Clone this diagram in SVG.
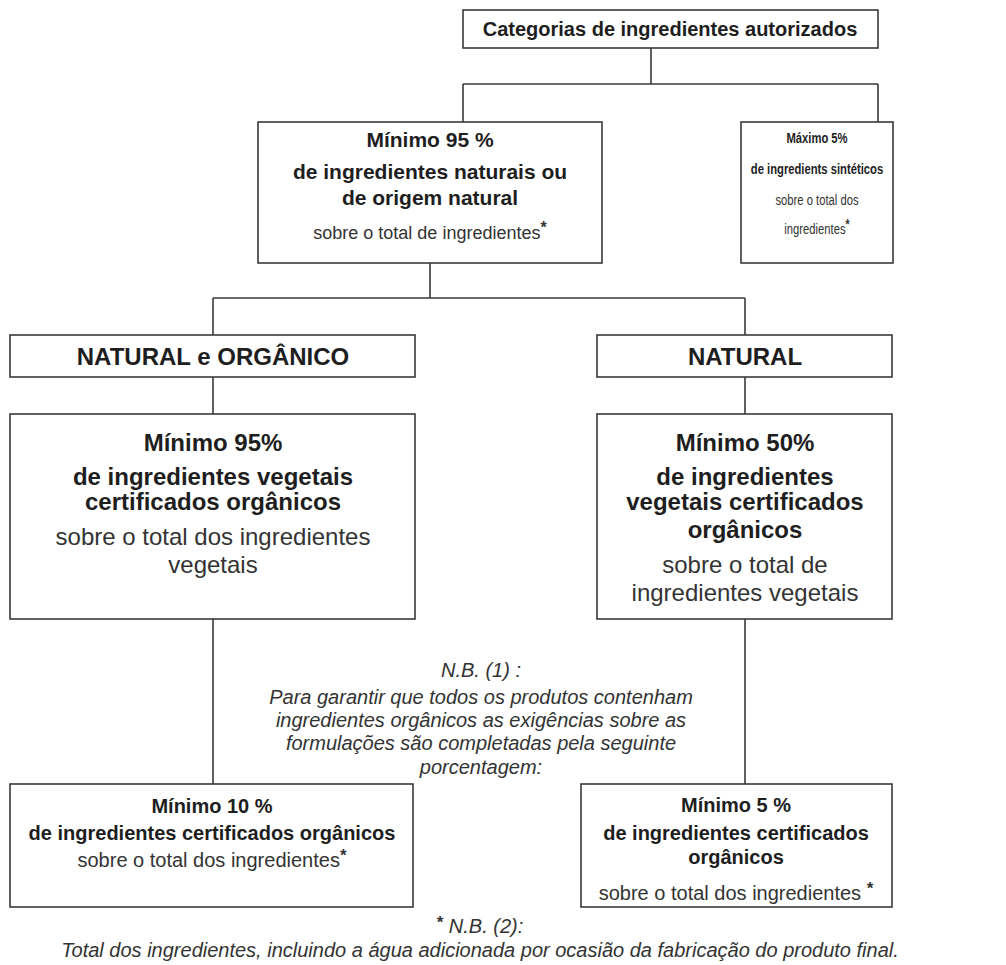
<svg xmlns="http://www.w3.org/2000/svg" width="1006" height="965" viewBox="0 0 1006 965">
  <style>
    .box { fill: #ffffff; stroke: #3a3a3a; stroke-width: 1.6; }
    .ln { fill: none; stroke: #3a3a3a; stroke-width: 1.6; }
    text { font-family: "Liberation Sans", Arial, sans-serif; fill: #1e1e1e; text-anchor: middle; }
    .b { font-weight: bold; }
    .i { font-style: italic; fill: #333333; }
    .r { fill: #333333; }
  </style>
  <rect width="1006" height="965" fill="#ffffff"/>

  <!-- connectors -->
  <g id="connectors">
    <path class="ln" d="M651 48 V84 M463 84 H878 M463 84 V122 M878 84 V122"/>
    <path class="ln" d="M430 263 V298 M213 298 H745 M213 298 V335 M745 298 V335"/>
    <path class="ln" d="M213 377 V414 M745 377 V414"/>
    <path class="ln" d="M213 619 V784 M745 619 V784"/>
  </g>

  <g id="root">
    <rect class="box" x="463" y="10" width="415" height="38"/>
    <text class="b" x="670" y="36" font-size="20">Categorias de ingredientes autorizados</text>
  </g>

  <g id="natural-min">
    <rect class="box" x="258" y="122" width="344" height="141"/>
    <text class="b" x="430" y="147" font-size="21">Mínimo 95 %</text>
    <text class="b" x="430" y="179" font-size="21">de ingredientes naturais ou</text>
    <text class="b" x="430" y="205" font-size="21">de origem natural</text>
    <text class="r" x="430" y="239" font-size="18">sobre o total de ingredientes<tspan class="b" font-size="16" dy="-6">*</tspan></text>
  </g>

  <!-- narrow box: lettering condensed horizontally to fit -->
  <g id="synthetic-max">
    <rect class="box" x="741" y="122" width="152" height="141"/>
    <g transform="translate(817 0) scale(0.75 1)">
      <text class="b" x="0" y="143" font-size="15">Máximo 5%</text>
      <text class="b" x="0" y="174" font-size="15">de ingredients sintéticos</text>
      <text class="r" x="0" y="205" font-size="15">sobre o total dos</text>
      <text class="r" x="0" y="234" font-size="15">ingredientes<tspan class="b" font-size="14" dy="-5">*</tspan></text>
    </g>
  </g>

  <g id="natural-organico">
    <rect class="box" x="10" y="335" width="405" height="42"/>
    <text class="b" x="213" y="365" font-size="24">NATURAL e ORGÂNICO</text>
  </g>

  <g id="natural">
    <rect class="box" x="597" y="335" width="295" height="42"/>
    <text class="b" x="745" y="365" font-size="24">NATURAL</text>
  </g>

  <g id="organico-vegetal">
    <rect class="box" x="10" y="414" width="405" height="205"/>
    <text class="b" x="213" y="451" font-size="24">Mínimo 95%</text>
    <text class="b" x="213" y="485" font-size="24">de ingredientes vegetais</text>
    <text class="b" x="213" y="510" font-size="24">certificados orgânicos</text>
    <text class="r" x="213" y="545" font-size="24">sobre o total dos ingredientes</text>
    <text class="r" x="213" y="573" font-size="24">vegetais</text>
  </g>

  <g id="natural-vegetal">
    <rect class="box" x="597" y="414" width="295" height="205"/>
    <text class="b" x="745" y="451" font-size="24">Mínimo 50%</text>
    <text class="b" x="745" y="485" font-size="24">de ingredientes</text>
    <text class="b" x="745" y="510" font-size="24">vegetais certificados</text>
    <text class="b" x="745" y="538" font-size="24">orgânicos</text>
    <text class="r" x="745" y="573" font-size="24">sobre o total de</text>
    <text class="r" x="745" y="601" font-size="24">ingredientes vegetais</text>
  </g>

  <g id="note-1">
    <text class="i" x="481" y="677" font-size="20">N.B. (1) :</text>
    <text class="i" x="481" y="704" font-size="20">Para garantir que todos os produtos contenham</text>
    <text class="i" x="481" y="727" font-size="20">ingredientes orgânicos as exigências sobre as</text>
    <text class="i" x="481" y="750" font-size="20">formulações são completadas pela seguinte</text>
    <text class="i" x="481" y="774" font-size="20">porcentagem:</text>
  </g>

  <g id="organico-total">
    <rect class="box" x="10" y="784" width="403" height="123"/>
    <text class="b" x="212" y="813" font-size="20">Mínimo 10 %</text>
    <text class="b" x="212" y="840" font-size="20">de ingredientes certificados orgânicos</text>
    <text class="r" x="212" y="867" font-size="20">sobre o total dos ingredientes<tspan class="b" font-size="17" dy="-6">*</tspan></text>
  </g>

  <g id="natural-total">
    <rect class="box" x="581" y="784" width="311" height="123"/>
    <text class="b" x="736" y="812" font-size="20">Mínimo 5 %</text>
    <text class="b" x="736" y="840" font-size="20">de ingredientes certificados</text>
    <text class="b" x="736" y="864" font-size="20">orgânicos</text>
    <text class="r" x="736" y="900" font-size="20">sobre o total dos ingredientes <tspan class="b" font-size="17" dy="-6">*</tspan></text>
  </g>

  <g id="note-2">
    <text class="i" x="480" y="933" font-size="20"><tspan class="b" font-style="normal" font-size="17" dy="-5">*</tspan><tspan dy="5"> N.B. (2):</tspan></text>
    <text class="i" x="480" y="957" font-size="20">Total dos ingredientes, incluindo a água adicionada por ocasião da fabricação do produto final.</text>
  </g>
</svg>
